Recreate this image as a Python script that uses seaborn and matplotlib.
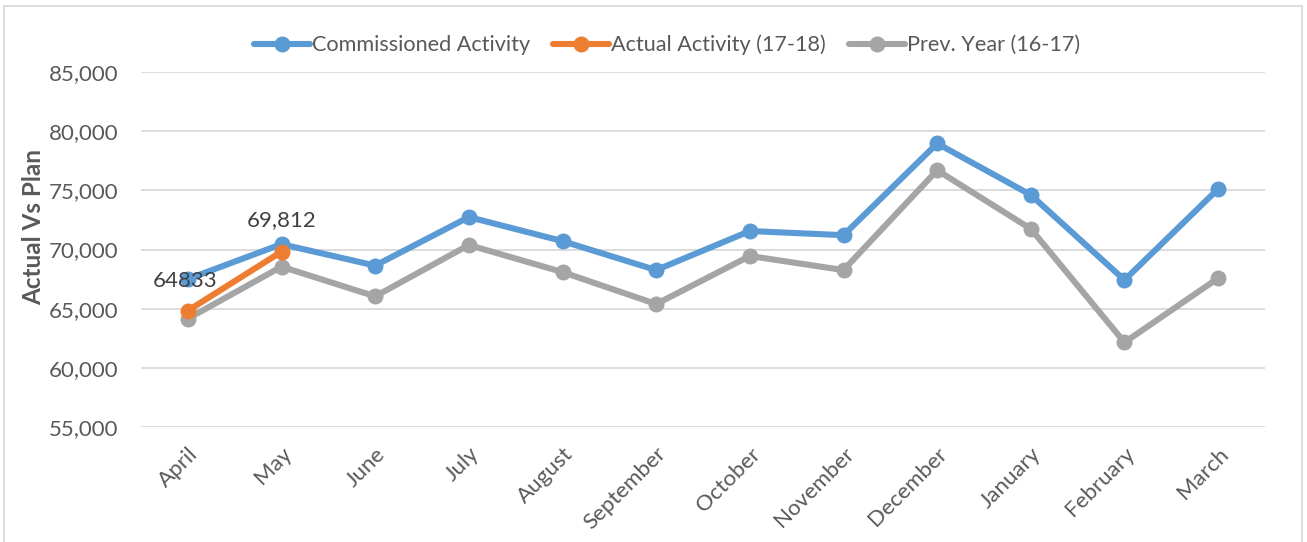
import matplotlib
matplotlib.use("Agg")
import matplotlib.pyplot as plt
from matplotlib.patches import Rectangle
import seaborn as sns
import pandas as pd

months = ["April", "May", "June", "July", "August", "September", "October",
          "November", "December", "January", "February", "March"]
commissioned = [67500, 70450, 68640, 72740, 70710, 68260, 71560, 71210,
                78960, 74610, 67420, 75120]
actual = [64833, 69812]
prev_year = [64150, 68550, 66040, 70380, 68090, 65390, 69450, 68260,
             76695, 71745, 62150, 67580]
actual_labels = ["64833", "69,812"]

series_names = ["Commissioned Activity", "Actual Activity (17-18)", "Prev. Year (16-17)"]
colors = ["#5B9BD5", "#ED7D31", "#A5A5A5"]

sns.set_theme(style="white")
plt.rcParams["font.family"] = ["Lato", "DejaVu Sans"]

txt = "#595959"

fig = plt.figure(figsize=(13.07, 5.42), dpi=100)
ax = fig.add_axes([141 / 1307, 1 - 427 / 542, 1124 / 1307, 355 / 542])

# Chart frame
fig.patches.append(Rectangle((4 / 1307, -0.01), 1298 / 1307, 1 - 6 / 542 + 0.01,
                             transform=fig.transFigure, fill=False,
                             edgecolor="#D9D9D9", linewidth=1.3))

frames = [
    pd.DataFrame({"month": months, "value": commissioned}),
    pd.DataFrame({"month": months[:len(actual)], "value": actual}),
    pd.DataFrame({"month": months, "value": prev_year}),
]

order = [0, 2, 1]  # draw orange on top of the others
for i in order:
    sns.lineplot(data=frames[i], x="month", y="value", ax=ax, sort=False,
                 color=colors[i], linewidth=4.4, marker="o", markersize=11.5,
                 markeredgewidth=0, label=series_names[i], zorder=3 + (i == 1))

# value labels for the actual series
offsets = [(-2, 21), (0, 23)]
for m, v, lab, off in zip(months[:len(actual)], actual, actual_labels, offsets):
    idx = months.index(m)
    ax.annotate(lab, (idx, v), xytext=off,
                textcoords="offset points", ha="center", va="center",
                fontsize=16, color="#404040", zorder=6)

ax.set_xlim(-0.5, len(months) - 0.5)
ax.set_ylim(55000, 85000)
ax.set_yticks(range(55000, 85001, 5000))
ax.set_yticklabels([f"{t:,}" for t in range(55000, 85001, 5000)])
ax.set_xticks(range(len(months)))
ax.set_xticklabels(months, rotation=45, ha="right", rotation_mode="anchor")
ax.tick_params(axis="both", length=0, labelsize=16, labelcolor=txt)
ax.tick_params(axis="x", pad=12)
ax.tick_params(axis="y", pad=16)

ax.grid(axis="y", color="#D9D9D9", linewidth=1.3)
ax.grid(axis="x", visible=False)
ax.set_axisbelow(True)
for s in ax.spines.values():
    s.set_visible(False)

ax.set_xlabel("")
ax.set_ylabel("Actual Vs Plan", fontsize=17.5, fontweight="bold", color=txt)
ax.yaxis.set_label_coords((45 - 141) / 1124, (427 - 227) / 355)

# legend in series order across the top
h, l = ax.get_legend_handles_labels()
lookup = dict(zip(l, h))
ax.legend([lookup[n] for n in series_names], series_names, loc="center",
          bbox_to_anchor=(667 / 1307, (542 - 45) / 542), bbox_transform=fig.transFigure,
          ncol=3, frameon=False, fontsize=15.6, labelcolor=txt, handlelength=2.6,
          handletextpad=0.1, columnspacing=1.05)

fig.savefig("out.png", dpi=100, facecolor="white")
